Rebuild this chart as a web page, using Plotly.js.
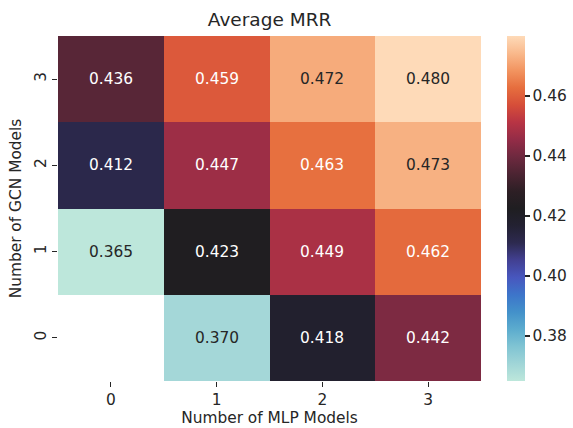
<!DOCTYPE html>
<html>
<head>
<meta charset="utf-8">
<script src="https://cdn.plot.ly/plotly-3.0.1.min.js"></script>
<style>html,body{margin:0;padding:0;background:#fff;}#chart{width:573px;height:428px;}</style>
</head>
<body>
<div id="chart"></div>
<script>
// Data
const mlpModels = [0, 1, 2, 3];          // x categories
const gcnModels = [0, 1, 2, 3];          // y categories
// rows follow gcnModels order (0,1,2,3); null = missing cell
const mrrRow0 = [null, 0.370, 0.418, 0.442];
const mrrRow1 = [0.365, 0.423, 0.449, 0.462];
const mrrRow2 = [0.412, 0.447, 0.463, 0.473];
const mrrRow3 = [0.436, 0.459, 0.472, 0.480];
const colorbarTicks = [0.38, 0.40, 0.42, 0.44, 0.46];
const vmin = 0.365, vmax = 0.480;

const z = [mrrRow0, mrrRow1, mrrRow2, mrrRow3];

const icefire = [
  [0.00, 'rgb(189,231,219)'],
  [0.05, 'rgb(160,213,215)'],
  [0.10, 'rgb(128,196,211)'],
  [0.15, 'rgb(92,172,206)'],
  [0.20, 'rgb(67,145,202)'],
  [0.25, 'rgb(61,117,202)'],
  [0.30, 'rgb(72,87,190)'],
  [0.35, 'rgb(66,64,146)'],
  [0.40, 'rgb(45,42,80)'],
  [0.45, 'rgb(35,33,50)'],
  [0.50, 'rgb(31,30,33)'],
  [0.55, 'rgb(45,31,37)'],
  [0.60, 'rgb(76,36,50)'],
  [0.65, 'rgb(110,41,63)'],
  [0.70, 'rgb(148,44,71)'],
  [0.75, 'rgb(184,52,68)'],
  [0.80, 'rgb(214,78,57)'],
  [0.85, 'rgb(230,110,62)'],
  [0.90, 'rgb(242,148,96)'],
  [0.95, 'rgb(249,185,140)'],
  [1.00, 'rgb(254,218,184)']
];

const font = 'DejaVu Sans, sans-serif';
const dark = '#262626';
const fs = 15.4;

const annotations = [];
z.forEach((row, i) => {
  row.forEach((v, j) => {
    if (v === null) return;
    const t = (v - vmin) / (vmax - vmin);
    const light = (t < 0.1 || t > 0.9);
    annotations.push({
      x: mlpModels[j], y: gcnModels[i], xref: 'x', yref: 'y',
      text: v.toFixed(3), showarrow: false,
      font: {family: font, size: fs, color: light ? dark : '#ffffff'}
    });
  });
});

const trace = {
  type: 'heatmap',
  x: mlpModels, y: gcnModels, z: z,
  zmin: vmin, zmax: vmax,
  colorscale: icefire,
  xgap: 0, ygap: 0,
  hoverongaps: false,
  colorbar: {
    x: 1.061, xanchor: 'left', xref: 'paper',
    y: 0.5, yanchor: 'middle', len: 1, lenmode: 'fraction',
    thickness: 18, thicknessmode: 'pixels',
    outlinewidth: 0, xpad: 0, ypad: 0,
    tickvals: colorbarTicks, ticktext: colorbarTicks.map(v => v.toFixed(2)),
    ticks: 'outside', ticklen: 5, tickwidth: 1.2, tickcolor: dark,
    tickfont: {family: font, size: fs, color: dark}
  }
};

const layout = {
  width: 573, height: 428,
  margin: {l: 58, r: 92, t: 36, b: 47, autoexpand: false},
  paper_bgcolor: '#fff', plot_bgcolor: '#fff',
  title: {text: 'Average MRR', x: 0.4705, xanchor: 'center', y: 0.955, yanchor: 'middle',
          font: {family: font, size: 18.5, color: dark}},
  xaxis: {
    range: [-0.5, 3.5], tickvals: mlpModels, ticktext: mlpModels.map(String),
    showgrid: false, zeroline: false, showline: false, automargin: false,
    ticks: 'outside', ticklen: 5, tickwidth: 1.2, tickcolor: dark,
    tickfont: {family: font, size: fs, color: dark},
    title: {text: 'Number of MLP Models', font: {family: font, size: fs, color: dark}, standoff: 2}
  },
  yaxis: {
    range: [-0.5, 3.5], tickvals: gcnModels, ticktext: gcnModels.map(String),
    showgrid: false, zeroline: false, showline: false, automargin: false,
    ticks: 'outside', ticklen: 5, tickwidth: 1.2, tickcolor: dark, tickangle: -90,
    tickfont: {family: font, size: fs, color: dark},
    title: {text: 'Number of GCN Models', font: {family: font, size: fs, color: dark}, standoff: 6}
  },
  annotations: annotations
};

Plotly.newPlot('chart', [trace], layout, {displayModeBar: false, staticPlot: true});
</script>
</body>
</html>
